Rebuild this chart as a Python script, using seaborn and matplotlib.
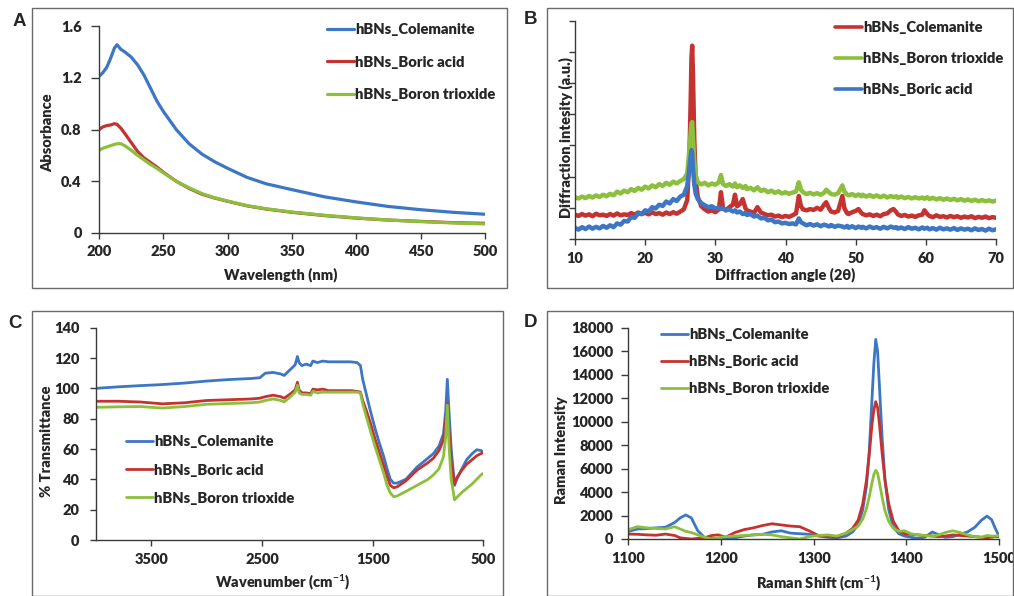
import numpy as np
import pandas as pd
import matplotlib
matplotlib.use('Agg')
import matplotlib.pyplot as plt
from matplotlib.patches import Rectangle
import seaborn as sns

# Style global
sns.set_theme(style="ticks")
plt.rcParams['font.family'] = ['Lato', 'DejaVu Sans']
plt.rcParams['font.weight'] = 'bold'
plt.rcParams['axes.labelweight'] = 'bold'
plt.rcParams['mathtext.fontset'] = 'custom'
plt.rcParams['mathtext.rm'] = 'Lato:bold'
plt.rcParams['mathtext.bf'] = 'Lato:bold'
plt.rcParams['mathtext.it'] = 'Lato:bold'

BLUE = '#3c76c4'
RED = '#c4332f'
GREEN = '#8cbf3c'
FW = 'heavy'

# -----------------------------------------------------------------------------
# A - UV-Vis
# -----------------------------------------------------------------------------
wl = [200, 203, 206, 209, 212, 214, 217, 220, 225, 230, 235, 240, 245, 250,
      260, 270, 280, 290, 300, 315, 330, 350, 375, 400, 425, 450, 475, 500]
abs_colemanite = [1.21, 1.24, 1.28, 1.35, 1.43, 1.455, 1.42, 1.40, 1.36, 1.30,
                  1.22, 1.12, 1.02, 0.94, 0.80, 0.69, 0.61, 0.55, 0.50, 0.43,
                  0.38, 0.335, 0.28, 0.24, 0.205, 0.18, 0.16, 0.145]
abs_boric = [0.80, 0.82, 0.83, 0.835, 0.845, 0.84, 0.81, 0.77, 0.70, 0.63,
             0.58, 0.545, 0.51, 0.47, 0.40, 0.345, 0.30, 0.27, 0.245, 0.21,
             0.185, 0.16, 0.135, 0.115, 0.10, 0.09, 0.08, 0.075]
abs_trioxide = [0.64, 0.655, 0.665, 0.675, 0.685, 0.69, 0.69, 0.675, 0.64, 0.60,
                0.565, 0.53, 0.50, 0.465, 0.40, 0.35, 0.305, 0.272, 0.247, 0.212,
                0.187, 0.162, 0.137, 0.117, 0.10, 0.088, 0.078, 0.07]

# -----------------------------------------------------------------------------
# B - XRD (unités arbitraires)
# -----------------------------------------------------------------------------
two_theta = [10.0, 10.5, 11.0, 11.5, 12.0, 12.5, 13.0, 13.5, 14.0, 14.5,
             15.0, 15.5, 16.0, 16.5, 17.0, 17.5, 18.0, 18.5, 19.0, 19.5,
             20.0, 20.5, 21.0, 21.5, 22.0, 22.5, 23.0, 23.5, 24.0, 24.5,
             25.0, 25.5, 26.0, 26.3, 26.5, 26.6, 26.7, 26.8, 27.0, 27.2,
             27.5, 28.0, 28.5, 29.0, 29.5, 30.0, 30.5, 30.8, 31.1, 31.5,
             32.0, 32.5, 32.8, 33.1, 33.5, 33.9, 34.3, 34.5, 35.0, 35.5,
             36.0, 36.5, 37.0, 37.5, 38.0, 38.5, 39.0, 39.5, 40.0, 40.5,
             41.0, 41.5, 41.9, 42.2, 42.5, 43.0, 43.5, 44.0, 44.5, 45.0,
             45.5, 45.8, 46.2, 46.5, 47.0, 47.5, 48.1, 48.4, 48.8, 49.0,
             49.5, 50.0, 50.4, 50.8, 51.0, 51.5, 52.0, 52.5, 53.0, 53.5,
             54.0, 54.5, 55.0, 55.4, 55.8, 56.0, 56.5, 57.0, 57.5, 58.0,
             58.5, 59.0, 59.5, 59.8, 60.2, 60.5, 61.0, 61.5, 62.0, 62.5,
             63.0, 63.5, 64.0, 64.5, 65.0, 65.5, 66.0, 66.5, 67.0, 67.5,
             68.0, 68.5, 69.0, 69.5, 70.0]
xrd_colemanite = [0.78, 0.74, 0.80, 0.75, 0.79, 0.73, 0.81, 0.76, 0.78, 0.74,
                  0.80, 0.75, 0.82, 0.76, 0.79, 0.77, 0.83, 0.78, 0.85, 0.80,
                  0.84, 0.79, 0.86, 0.80, 0.83, 0.78, 0.85, 0.80, 0.86, 0.81,
                  0.88, 0.95, 1.25, 2.60, 4.60, 5.80, 6.20, 5.40, 3.20, 1.90,
                  1.35, 1.05, 0.95, 0.88, 0.92, 0.86, 0.95, 1.50, 0.98, 0.92,
                  1.02, 1.10, 1.42, 1.05, 1.12, 1.28, 0.98, 0.92, 0.88, 0.84,
                  1.02, 0.85, 0.80, 0.76, 0.78, 0.72, 0.75, 0.70, 0.74, 0.71,
                  0.76, 0.82, 1.38, 1.05, 0.95, 0.92, 0.96, 0.93, 1.00, 0.94,
                  1.10, 1.18, 0.98, 0.88, 0.85, 0.90, 1.38, 0.98, 0.82, 0.80,
                  0.86, 0.90, 0.96, 0.84, 0.80, 0.76, 0.79, 0.74, 0.78, 0.73,
                  0.80, 0.82, 0.92, 0.96, 0.86, 0.79, 0.74, 0.77, 0.72, 0.75,
                  0.71, 0.76, 0.78, 0.92, 0.80, 0.74, 0.70, 0.76, 0.71, 0.73,
                  0.69, 0.74, 0.70, 0.73, 0.68, 0.72, 0.69, 0.73, 0.67, 0.71,
                  0.68, 0.72, 0.67, 0.70, 0.68]
xrd_trioxide = [1.34, 1.30, 1.36, 1.31, 1.38, 1.33, 1.40, 1.35, 1.42, 1.37,
                1.45, 1.40, 1.52, 1.46, 1.55, 1.50, 1.60, 1.54, 1.64, 1.58,
                1.68, 1.62, 1.72, 1.66, 1.76, 1.70, 1.80, 1.74, 1.84, 1.78,
                1.86, 1.92, 2.10, 2.90, 3.40, 3.70, 3.75, 3.30, 2.50, 2.05,
                1.82, 1.75, 1.80, 1.72, 1.78, 1.74, 1.82, 2.05, 1.76, 1.70,
                1.76, 1.68, 1.78, 1.66, 1.72, 1.64, 1.70, 1.60, 1.64, 1.56,
                1.66, 1.54, 1.58, 1.50, 1.55, 1.48, 1.53, 1.46, 1.50, 1.45,
                1.49, 1.52, 1.82, 1.58, 1.50, 1.44, 1.48, 1.43, 1.47, 1.42,
                1.48, 1.58, 1.50, 1.44, 1.42, 1.47, 1.72, 1.52, 1.42, 1.40,
                1.44, 1.38, 1.43, 1.37, 1.42, 1.36, 1.41, 1.35, 1.40, 1.34,
                1.39, 1.33, 1.38, 1.34, 1.37, 1.32, 1.36, 1.31, 1.35, 1.30,
                1.34, 1.30, 1.33, 1.29, 1.34, 1.28, 1.32, 1.27, 1.31, 1.26,
                1.30, 1.25, 1.29, 1.24, 1.28, 1.23, 1.27, 1.22, 1.26, 1.21,
                1.25, 1.21, 1.24, 1.20, 1.23]
xrd_boric = [0.36, 0.30, 0.38, 0.32, 0.40, 0.33, 0.39, 0.34, 0.42, 0.36,
             0.44, 0.38, 0.50, 0.46, 0.58, 0.56, 0.70, 0.68, 0.82, 0.80,
             0.92, 0.88, 1.02, 0.98, 1.10, 1.06, 1.20, 1.14, 1.28, 1.22,
             1.36, 1.42, 1.70, 2.30, 2.70, 2.85, 2.75, 2.30, 1.75, 1.45,
             1.28, 1.15, 1.08, 1.02, 1.05, 0.98, 1.00, 0.96, 0.98, 0.92,
             0.95, 0.88, 0.92, 0.85, 0.88, 0.80, 0.84, 0.77, 0.80, 0.72,
             0.75, 0.66, 0.68, 0.60, 0.62, 0.54, 0.56, 0.50, 0.52, 0.48,
             0.50, 0.47, 0.66, 0.54, 0.50, 0.44, 0.48, 0.43, 0.47, 0.41,
             0.46, 0.44, 0.40, 0.45, 0.39, 0.43, 0.40, 0.37, 0.42, 0.36,
             0.41, 0.35, 0.40, 0.36, 0.39, 0.34, 0.40, 0.35, 0.38, 0.33,
             0.39, 0.34, 0.40, 0.36, 0.38, 0.33, 0.37, 0.32, 0.38, 0.33,
             0.36, 0.31, 0.37, 0.33, 0.36, 0.31, 0.35, 0.30, 0.36, 0.31,
             0.34, 0.30, 0.35, 0.29, 0.34, 0.30, 0.33, 0.28, 0.34, 0.29,
             0.32, 0.27, 0.33, 0.28, 0.31]

# -----------------------------------------------------------------------------
# C - FTIR
# -----------------------------------------------------------------------------
wavenumber = [4000, 3800, 3600, 3400, 3200, 3000, 2800, 2600, 2520, 2470,
              2400, 2330, 2300, 2250, 2200, 2180, 2165, 2140, 2100, 2060,
              2040, 2000, 1950, 1900, 1800, 1700, 1640, 1610, 1590, 1560,
              1520, 1480, 1440, 1400, 1370, 1340, 1310, 1280, 1200, 1100,
              1000, 950, 900, 860, 840, 825, 810, 790, 760, 740,
              700, 650, 600, 560, 520, 500]
ir_colemanite = [100, 101, 101.8, 102.5, 103.5, 104.8, 105.8, 106.5, 107, 110,
                 110.5, 109.5, 108.5, 112, 115.5, 121, 117, 115, 116, 115,
                 118, 117, 118, 117.5, 117.5, 117.5, 117, 115, 106, 97,
                 85, 74, 64, 55, 47, 40, 37.5, 37.5, 40, 48,
                 54, 57, 62, 70, 85, 106, 85, 60, 36, 40,
                 46, 53, 57, 59.5, 59, 58]
ir_boric = [91.5, 91.5, 91, 89.8, 90.5, 92, 92.5, 93, 93.5, 94.5,
            95.5, 94.5, 93.5, 96, 99, 104, 99, 97, 97, 96.5,
            99.5, 99, 99.5, 98.5, 98.5, 98.5, 98, 97.5, 92, 86,
            77, 67, 58, 49, 42, 36, 34.5, 35, 39, 46,
            51, 54, 59, 66, 78, 90, 72, 52, 37, 41,
            45.5, 50, 53, 55.5, 57, 57.5]
ir_trioxide = [87.5, 87.8, 88, 87, 88, 89.5, 90, 90.5, 91, 92,
               93, 92, 91, 94, 97.5, 102, 97, 96, 96, 95.5,
               98, 97, 97.5, 97.5, 97.5, 97.5, 97.5, 97, 90, 82,
               72, 62, 53, 44, 36, 31, 28.5, 29, 32, 36,
               40, 43, 47, 55, 68, 89, 62, 40, 26.5, 28,
               31, 34, 37, 40, 43, 44]

# -----------------------------------------------------------------------------
# D - Raman
# -----------------------------------------------------------------------------
raman_shift = [1100, 1110, 1120, 1130, 1140, 1150, 1156, 1162, 1168, 1175,
               1182, 1190, 1197, 1205, 1215, 1225, 1235, 1245, 1255, 1265,
               1275, 1285, 1295, 1305, 1315, 1325, 1335, 1342, 1348, 1353,
               1357, 1360, 1363, 1365, 1367, 1369, 1371, 1374, 1377, 1381,
               1386, 1392, 1398, 1405, 1412, 1420, 1428, 1435, 1442, 1450,
               1458, 1466, 1474, 1481, 1487, 1492, 1496, 1500]
ram_colemanite = [650, 850, 880, 950, 1000, 1400, 1800, 2050, 1800, 700,
                  150, 50, 0, 50, 100, 250, 350, 400, 600, 700,
                  500, 450, 400, 250, 150, 100, 250, 600, 1200, 2500,
                  4500, 7500, 12000, 15000, 17000, 16000, 13000, 8500, 5000, 2500,
                  1000, 450, 250, 150, 50, 150, 600, 350, 150, 200,
                  400, 600, 1000, 1600, 1950, 1650, 900, 250]
ram_boric = [420, 400, 350, 320, 420, 300, 100, 50, 0, 50,
             100, 300, 350, 150, 550, 800, 950, 1150, 1300, 1200,
             1100, 1050, 700, 300, 200, 150, 500, 900, 1600, 3000,
             5000, 7200, 9800, 11000, 11700, 11200, 9800, 7200, 5000, 3000,
             1500, 700, 450, 400, 350, 300, 250, 200, 250, 350,
             300, 250, 200, 150, 100, 150, 200, 200]
ram_trioxide = [800, 1050, 950, 900, 850, 1050, 850, 650, 550, 350,
                150, 0, 100, 200, 250, 300, 350, 400, 350, 200,
                100, 0, 200, 300, 350, 250, 500, 800, 1100, 1700,
                2600, 3600, 4800, 5500, 5850, 5600, 4800, 3500, 2400, 1500,
                900, 650, 700, 450, 350, 300, 250, 350, 550, 700,
                550, 350, 200, 150, 300, 250, 250, 300]

# =============================================================================
# FIGURE
# =============================================================================
W, H = 1014, 596
fig = plt.figure(figsize=(W / 100, H / 100), dpi=100)


def px_axes(x0, x1, y0, y1):
    # x0,x1,y0,y1 en pixels (origine en haut à gauche)
    return fig.add_axes([x0 / W, 1 - y1 / H, (x1 - x0) / W, (y1 - y0) / H])


def style_axes(ax, xlen=4.5, ylen=5, xpad=4.5, ypad=6.5):
    sns.despine(ax=ax)
    for s in ['left', 'bottom']:
        ax.spines[s].set_color('#3a3a3a')
        ax.spines[s].set_linewidth(1.0)
    ax.tick_params(axis='x', direction='out', length=xlen, width=1.0,
                   color='#3a3a3a', pad=xpad, labelsize=10.5)
    ax.tick_params(axis='y', direction='out', length=ylen, width=1.0,
                   color='#3a3a3a', pad=ypad, labelsize=10.5)
    for lab in ax.get_xticklabels() + ax.get_yticklabels():
        lab.set_fontweight(FW)


def add_legend(ax, x_px, y_px, spacing):
    ax.legend(loc='upper left', bbox_to_anchor=(x_px / W, 1 - y_px / H),
              bbox_transform=fig.transFigure, frameon=False, borderpad=0,
              borderaxespad=0, handlelength=1.8,
              handletextpad=0.12, labelspacing=spacing,
              prop={'weight': FW, 'size': 10.6})


def panel_box(x0, y0, x1, y1, letter, lx, ly):
    fig.add_artist(Rectangle((x0 / W, 1 - y1 / H), (x1 - x0) / W, (y1 - y0) / H,
                             transform=fig.transFigure, fill=False,
                             edgecolor='#6a6a6a', linewidth=1.0))
    fig.text(lx / W, 1 - ly / H, letter, family='Liberation Sans',
             weight='bold', fontsize=13.5, ha='left', va='center')


def labels(ax, xl, yl, xpos, ypos):
    ax.set_xlabel(xl, fontsize=10.5, fontweight=FW)
    ax.set_ylabel(yl, fontsize=10.5, fontweight=FW)
    ax.xaxis.set_label_coords(*xpos)
    ax.yaxis.set_label_coords(*ypos)


# --- A ---
axA = px_axes(99, 485, 26, 233)
sns.lineplot(x=wl, y=abs_colemanite, ax=axA, color=BLUE, lw=2.3, label='hBNs_Colemanite')
sns.lineplot(x=wl, y=abs_boric, ax=axA, color=RED, lw=2.3, label='hBNs_Boric acid')
sns.lineplot(x=wl, y=abs_trioxide, ax=axA, color=GREEN, lw=2.3, label='hBNs_Boron trioxide')
axA.set_xlim(200, 500)
axA.set_ylim(0, 1.6)
axA.set_xticks([200, 250, 300, 350, 400, 450, 500])
axA.set_yticks([0, 0.4, 0.8, 1.2, 1.6])
axA.set_yticklabels(['0', '0.4', '0.8', '1.2', '1.6'])
style_axes(axA, xlen=4, ylen=5.5, xpad=5, ypad=7)
labels(axA, 'Wavelength (nm)', 'Absorbance', (0.471, -0.165), (-0.117, 0.483))
add_legend(axA, 327, 23, 1.33)

# --- B ---
axB = px_axes(575, 996, 20.7, 239)
sns.lineplot(x=two_theta, y=xrd_colemanite, ax=axB, color=RED, lw=3.2, label='hBNs_Colemanite')
sns.lineplot(x=two_theta, y=xrd_trioxide, ax=axB, color=GREEN, lw=3.2, label='hBNs_Boron trioxide')
sns.lineplot(x=two_theta, y=xrd_boric, ax=axB, color=BLUE, lw=3.2, label='hBNs_Boric acid')
axB.set_xlim(10, 70)
axB.set_ylim(0, 7)
axB.set_xticks([10, 20, 30, 40, 50, 60, 70])
axB.set_yticks([0, 1, 2, 3, 4, 5, 6, 7])
axB.set_yticklabels([])
style_axes(axB, xlen=4.5, ylen=4.5, xpad=4.5, ypad=2)
labels(axB, 'Diffraction angle (2θ)', 'Diffraction intesity (a.u.)',
       (0.5, -0.13), (-0.004, 0.465))
add_legend(axB, 835, 21.5, 1.22)
for line in axB.get_legend().get_lines():
    line.set_linewidth(2.6)

# --- C ---
axC = px_axes(96, 483.3, 327.7, 540)
sns.lineplot(x=wavenumber, y=ir_colemanite, ax=axC, color=BLUE, lw=2.0, label='hBNs_Colemanite')
sns.lineplot(x=wavenumber, y=ir_boric, ax=axC, color=RED, lw=2.0, label='hBNs_Boric acid')
sns.lineplot(x=wavenumber, y=ir_trioxide, ax=axC, color=GREEN, lw=2.0, label='hBNs_Boron trioxide')
axC.set_xlim(4000, 500)
axC.set_ylim(0, 140)
axC.set_xticks([3500, 2500, 1500, 500])
axC.set_yticks([0, 20, 40, 60, 80, 100, 120, 140])
style_axes(axC, xlen=4.5, ylen=4.5, xpad=5, ypad=7.5)
labels(axC, 'Wavenumber (cm$^{-1}$)', '% Transmittance', (0.4816, -0.152), (-0.111, 0.463))
add_legend(axC, 126, 435.5, 1.02)

# --- D ---
axD = px_axes(628.3, 999, 327.7, 539)
sns.lineplot(x=raman_shift, y=ram_colemanite, ax=axD, color=BLUE, lw=2.0, label='hBNs_Colemanite')
sns.lineplot(x=raman_shift, y=ram_boric, ax=axD, color=RED, lw=2.0, label='hBNs_Boric acid')
sns.lineplot(x=raman_shift, y=ram_trioxide, ax=axD, color=GREEN, lw=2.0, label='hBNs_Boron trioxide')
axD.set_xlim(1100, 1500)
axD.set_ylim(0, 18000)
axD.set_xticks([1100, 1200, 1300, 1400, 1500])
axD.set_yticks(list(range(0, 18001, 2000)))
style_axes(axD, xlen=4.5, ylen=5, xpad=5, ypad=6)
labels(axD, 'Raman Shift (cm$^{-1}$)', 'Raman Intensity', (0.514, -0.165), (-0.163, 0.421))
add_legend(axD, 661, 328, 0.95)

# --- cadres et lettres ---
panel_box(32, 8, 507, 288, 'A', 13, 21)
panel_box(546.5, 7.5, 1013, 288, 'B', 524, 20)
panel_box(32, 310.5, 503, 595.5, 'C', 8, 323)
panel_box(546.5, 310.5, 1013, 595.5, 'D', 524, 322)

fig.savefig('out.png', dpi=100, facecolor='white')
